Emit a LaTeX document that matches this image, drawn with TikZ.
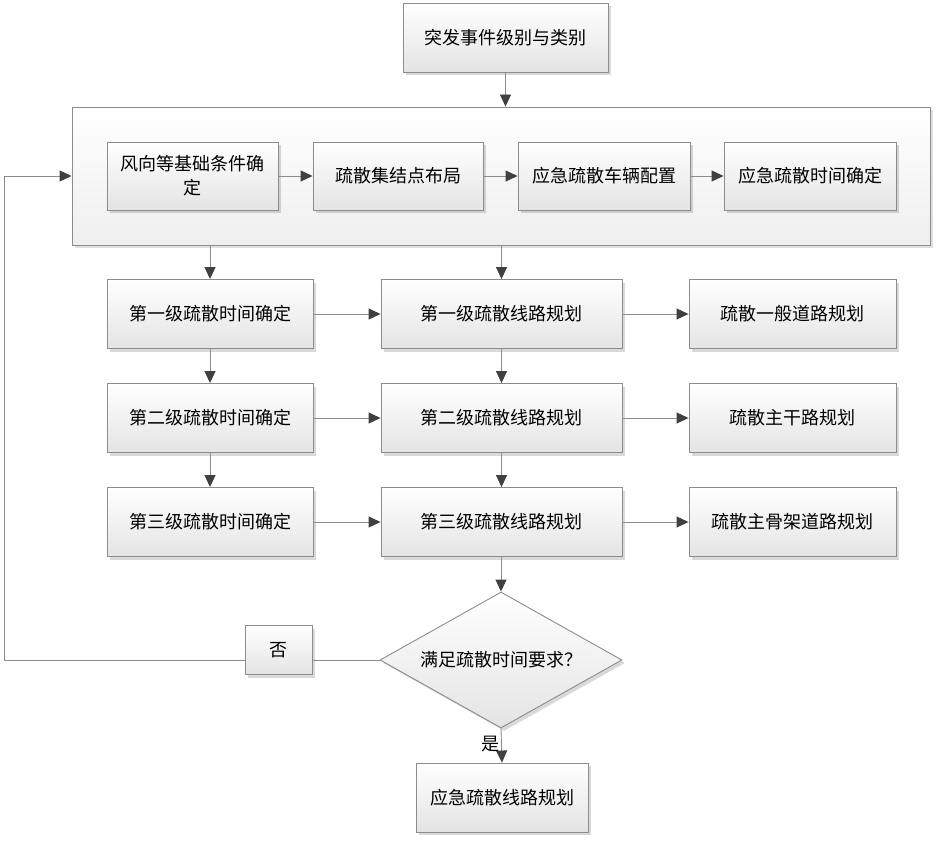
\documentclass[tikz,border=0pt]{standalone}
\usepackage{fontspec}
\setmainfont{Noto Sans CJK SC}
\usetikzlibrary{arrows.meta,shapes.geometric,shadows}
\definecolor{edge}{HTML}{8C8C8C}
\definecolor{tip}{HTML}{404040}
\definecolor{boxbot}{HTML}{E4E4E4}
\tikzset{
  boxbase/.style={draw=edge, line width=0.9pt, top color=white, bottom color=boxbot,
    inner sep=0pt, align=center, font=\fontsize{18}{24}\selectfont,
    drop shadow={shadow xshift=3pt, shadow yshift=-3pt, fill=black, opacity=0.15}},
  stepbox/.style={boxbase, minimum width=#1, minimum height=69pt},
  stepbox/.default=206pt,
  conn/.style={draw=edge, line width=0.9pt, -{Triangle[length=12pt,width=11pt,fill=tip,color=tip]}},
  plain/.style={draw=edge, line width=0.9pt},
}
\begin{document}
\begin{tikzpicture}[x=1pt,y=-1pt]
\useasboundingbox (0,0) rectangle (936,840);
% top
\node[boxbase, minimum width=205pt, minimum height=69pt] (top) at (505.5,37.5) {突发事件级别与类别};
% container
\node[draw=edge, line width=0.9pt, top color=white, bottom color=boxbot!60, minimum width=858pt, minimum height=138pt, inner sep=0pt,
  drop shadow={shadow xshift=3pt, shadow yshift=-3pt, fill=black, opacity=0.12}] (cont) at (501,176) {};
\node[stepbox=171pt, minimum height=68pt] (b1) at (192.5,176) {风向等基础条件确\\定};
\node[stepbox=170pt, minimum height=68pt] (b2) at (398,176) {疏散集结点布局};
\node[stepbox=172pt, minimum height=68pt] (b3) at (604,176) {应急疏散车辆配置};
\node[stepbox=172pt, minimum height=68pt] (b4) at (810,176) {应急疏散时间确定};
% rows
\node[stepbox] (t1) at (210,314) {第一级疏散时间确定};
\node[stepbox] (t2) at (210,418) {第二级疏散时间确定};
\node[stepbox] (t3) at (210,522) {第三级疏散时间确定};
\node[stepbox=241pt] (r1) at (501.5,314) {第一级疏散线路规划};
\node[stepbox=241pt] (r2) at (501.5,418) {第二级疏散线路规划};
\node[stepbox=241pt] (r3) at (501.5,522) {第三级疏散线路规划};
\node[stepbox=207pt] (p1) at (792.5,314) {疏散一般道路规划};
\node[stepbox=207pt] (p2) at (792.5,418) {疏散主干路规划};
\node[stepbox=207pt] (p3) at (792.5,522) {疏散主骨架道路规划};
% decision
\node[diamond, aspect=1.78, draw=edge, line width=0.9pt, top color=white, bottom color=boxbot, inner sep=0pt,
  minimum width=242pt, minimum height=136pt, font=\fontsize{18}{24}\selectfont,
  drop shadow={shadow xshift=3pt, shadow yshift=-3pt, fill=black, opacity=0.15}] (dec) at (501,660) {满足疏散时间要求？};
\node[boxbase, minimum width=67pt, minimum height=49pt] (no) at (278.5,650) {否};
\node[boxbase, minimum width=172pt, minimum height=69pt] (fin) at (502,797.5) {应急疏散线路规划};
\coordinate (c1) at (4,660);
\coordinate (c2) at (4,176);
% connectors
\draw[conn] (top.south) -- (top.south |- cont.north);
\draw[conn] (b1) -- (b2);
\draw[conn] (b2) -- (b3);
\draw[conn] (b3) -- (b4);
\draw[conn] (cont.south -| t1.north) -- (t1.north);
\draw[conn] (cont.south -| r1.north) -- (r1.north);
\draw[conn] (t1) -- (r1);
\draw[conn] (t2) -- (r2);
\draw[conn] (t3) -- (r3);
\draw[conn] (r1) -- (p1);
\draw[conn] (r2) -- (p2);
\draw[conn] (r3) -- (p3);
\draw[conn] (t1) -- (t2);
\draw[conn] (t2) -- (t3);
\draw[conn] (r1) -- (r2);
\draw[conn] (r2) -- (r3);
\draw[conn] (r3.south -| dec.north) -- (dec.north);
\draw[conn] (dec.south) -- node[pos=0.45, anchor=east, font=\fontsize{18}{24}\selectfont, inner sep=2pt] {是} (fin.north);
\draw[plain] (dec.west) -- (no.east |- dec.west);
\draw[conn] (no.west |- dec.west) -- (c1) -- (c2) -- (cont.west |- c2);
\end{tikzpicture}
\end{document}
